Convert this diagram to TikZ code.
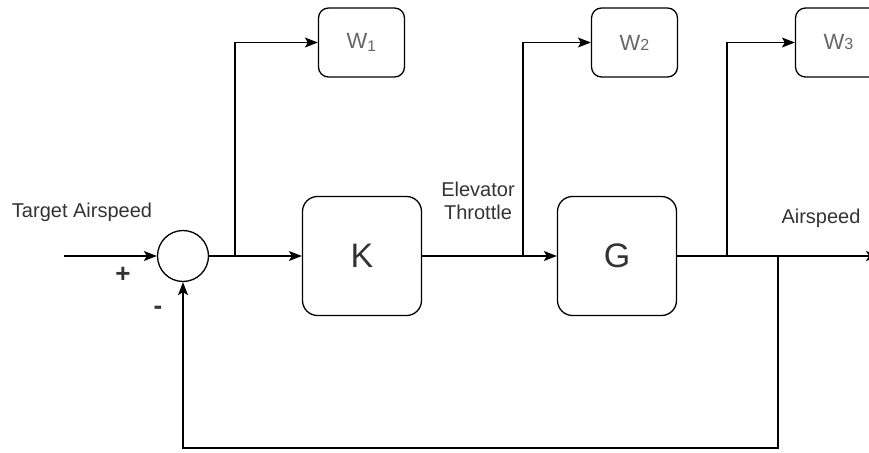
\documentclass[tikz,border=0pt]{standalone}
\usepackage{fontspec}
\setmainfont{Liberation Sans}
\usetikzlibrary{arrows.meta,positioning,calc}

\begin{document}
\begin{tikzpicture}[x=1pt,y=-1pt]
  \tikzset{ blk/.style={draw,rounded corners=15pt,minimum size=119pt,line width=1.3pt,
      font=\fontsize{34}{34}\selectfont,text=black!80},
    wbox/.style={draw,rounded corners=10pt,minimum width=86pt,minimum height=69pt,line width=1.3pt,
      font=\fontsize{22}{22}\selectfont,text=black!60},
    sumc/.style={circle,draw,line width=1.3pt,minimum size=51pt,inner sep=0pt},
    sig/.style={line width=1.3pt,-{Stealth[length=13pt,width=10pt,inset=3pt]}},
    lbl/.style={text=black!80,font=\fontsize{20}{23}\selectfont,align=center},
  }
  \clip (0,0) rectangle (869,452);

  % blocks
  \node[sumc] (sum) at (183, 256) {};
  \node[blk] (K) at (362, 256) {K};
  \node[blk] (G) at (617, 256) {G};
  \node[wbox] (W1) at (361.5, 42.5) {W\textsubscript{1}};
  \node[wbox] (W2) at (634.5, 42.5) {W{\fontsize{16}{16}\selectfont 2}};
  \node[wbox] (W3) at (838.5, 42.5) {W{\fontsize{16}{16}\selectfont 3}};

  % branch points and loose ends
  \coordinate (in) at (64, 256);
  \coordinate (out) at (879, 256);
  \coordinate (b1) at (235, 256);
  \coordinate (b2) at (523, 256);
  \coordinate (b3) at (727, 256);
  \coordinate (tap) at (778, 256);
  \coordinate (fb) at (778, 448);

  % signal path
  \draw[sig] (in) -- (sum);
  \draw[sig] (sum) -- (K);
  \draw[sig] (K) -- (G);
  \draw[sig] (G) -- (out);
  \draw[sig] (b1) |- (W1);
  \draw[sig] (b2) |- (W2);
  \draw[sig] (b3) |- (W3);

  % feedback
  \draw[sig] (tap) -- (fb) -| (sum);

  % labels
  \node[lbl] (target) at (82, 212) {Target Airspeed};
  \node[lbl,font=\fontsize{26}{26}\selectfont\bfseries] (plus) at (123, 275) {+};
  \node[lbl,font=\fontsize{26}{26}\selectfont\bfseries] (minus) at (158, 310) {-};
  \node[lbl] (elev) at (478, 201) {Elevator\\Throttle};
  \node[lbl] (speed) at (821, 218) {Airspeed};
\end{tikzpicture}
\end{document}
